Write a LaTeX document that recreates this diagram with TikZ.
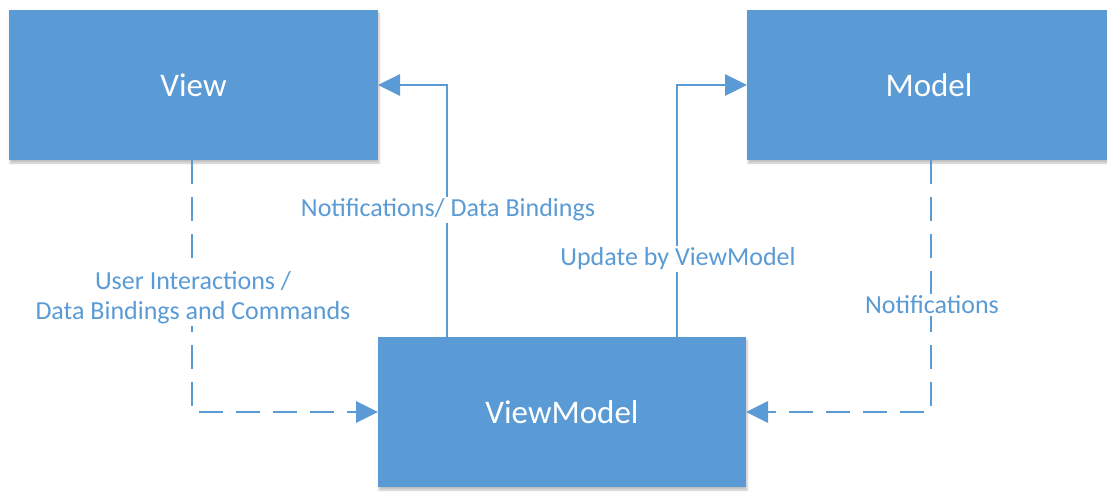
\documentclass[tikz,border=0pt]{standalone}
\usepackage{fontspec}
\setmainfont{Carlito}
\usetikzlibrary{arrows.meta,shadows.blur}
\definecolor{officeblue}{HTML}{5B9BD5}
\begin{document}
\begin{tikzpicture}[x=1pt,y=-1pt,
  block/.style={fill=officeblue, draw=none, inner sep=0pt,
    blur shadow={shadow xshift=1pt, shadow yshift=-3pt, shadow blur steps=6, shadow opacity=25}},
  blocktext/.style={text=white, font=\fontsize{33}{38}\selectfont},
  flow/.style={draw=officeblue, line width=2.9pt,
    -{Triangle[length=22pt,width=21pt]}},
  dashflow/.style={flow, dash pattern=on 24pt off 13pt},
  lbl/.style={fill=white, text=officeblue, inner sep=2pt, align=center,
    font=\fontsize{26}{30}\selectfont}]
  \useasboundingbox (0,0) rectangle (1107,491);

  % the three components
  \path[block] (9,10) rectangle (378,160);
  \node[blocktext] (view) at (193.5,85) {View};
  \path[block] (747,10) rectangle (1112,160);
  \node[blocktext] (model) at (929,85) {Model};
  \path[block] (378,337) rectangle (746,487);
  \node[blocktext] (vm) at (562,412) {ViewModel};

  % anchor points on the box edges
  \coordinate (viewR) at (378,85);
  \coordinate (viewB) at (192,160);
  \coordinate (modelL) at (747,85);
  \coordinate (modelB) at (931,160);
  \coordinate (vmTl) at (447,337);
  \coordinate (vmTr) at (677,337);
  \coordinate (vmL) at (378,412);
  \coordinate (vmR) at (746,412);

  % solid connectors
  \draw[flow] (vmTl) |- (viewR);
  \draw[flow] (vmTr) |- (modelL);

  % dashed connectors
  \draw[dashflow] (viewB) |- (vmL);
  \draw[dashflow] (modelB) |- (vmR);

  % connector labels
  \node[lbl] (l1) at (448,210) {Notifications/ Data Bindings};
  \node[lbl] (l2) at (678,259) {Update by ViewModel};
  \node[lbl] (l3) at (193,298) {User Interactions /\\Data Bindings and Commands};
  \node[lbl] (l4) at (932,305) {Notifications};
\end{tikzpicture}
\end{document}
